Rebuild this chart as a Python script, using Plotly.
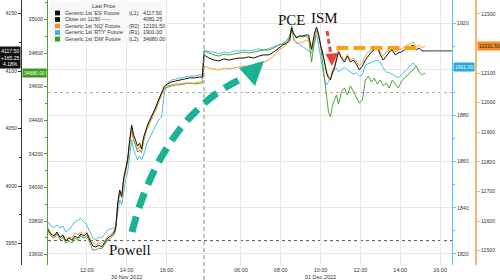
import plotly.graph_objects as go

# ---------------- data ----------------
nov30_times = ["10:03","10:12","10:21","10:30","10:39","10:48","10:57","11:06","11:15","11:24",
               "11:33","11:42","11:51","12:00","12:09","12:18","12:27","12:36","12:45","12:54",
               "13:03","13:12","13:21","13:27","13:33","13:39","13:45","13:51","13:57","14:03",
               "14:09","14:15","14:21","14:27","14:33","14:39","14:45","14:51","14:57","15:03",
               "15:09","15:18","15:27","15:36","15:45","15:54","16:03","16:15","16:27","16:39",
               "16:54","17:09","17:24","17:39","17:48"]
dec1_times = ["04:09","04:24","04:39","04:54","05:09","05:24","05:39","05:54","06:09","06:24",
              "06:39","06:54","07:09","07:24","07:39","07:54","08:06","08:18","08:27","08:33",
              "08:39","08:48","08:57","09:06","09:15","09:24","09:33","09:42","09:48","09:54",
              "10:00","10:06","10:12","10:18","10:24","10:30","10:36","10:42","10:48","10:54",
              "11:03","11:12","11:21","11:30","11:39","11:48","11:57","12:06","12:15","12:24",
              "12:33","12:42","12:51","13:00","13:09","13:18","13:27","13:36","13:45","13:54",
              "14:03","14:12","14:21","14:30","14:39","14:48","14:57","15:06","15:15"]

es_nov30 = [3961.75,3958.25,3956.5,3960.0,3955.5,3957.25,3952.25,3954.75,3953.0,3956.5,
            3954.75,3958.25,3956.5,3959.0,3953.0,3947.75,3947.0,3948.5,3947.0,3950.5,
            3954.75,3956.5,3959.0,3963.5,3985.25,3996.5,3991.25,4007.0,4015.5,4022.5,
            4040.0,4053.0,4044.25,4040.0,4034.75,4037.25,4032.25,4042.5,4048.75,4053.0,
            4057.25,4062.5,4067.75,4074.75,4081.75,4087.0,4088.75,4090.5,4091.25,4092.25,
            4093.0,4094.0,4094.0,4094.75,4094.75]
es_dec1 = [4114.0,4111.25,4109.5,4108.75,4110.5,4109.5,4110.5,4111.25,4111.25,4112.25,
           4111.25,4113.0,4114.0,4114.0,4116.5,4120.0,
           4122.5,4124.25,4127.0,4137.5,4132.25,4128.75,4130.5,4130.5,4131.25,4131.25,4119.0,4133.0,
           4138.25,4132.25,4122.5,4116.5,4107.75,4098.25,4094.0,4092.25,4099.0,4102.5,4109.5,4116.5,
           4111.25,4107.75,4113.0,4107.75,4109.5,4106.0,4101.0,4104.25,4109.5,4113.0,
           4116.5,4118.25,4121.0,4114.0,4109.5,4113.0,4116.5,4118.25,4114.0,4115.75,
           4116.5,4118.25,4120.0,4121.0,4122.5,4118.25,4120.0,4117.5,4117.5]

dm_nov30 = [33758,33711,33699,33723,33687,33705,33669,33681,33669,33699,
            33687,33711,33699,33711,33669,33628,33628,33639,33634,33657,
            33687,33699,33717,33747,33895,33967,33937,34044,34104,34175,
            34264,34354,34282,34241,34211,34223,34205,34282,34330,34360,
            34389,34431,34467,34514,34562,34592,34598,34604,34610,34610,
            34616,34621,34616,34621,34621]
dm_dec1 = [34812,34800,34788,34782,34794,34788,34794,34800,34806,34800,
           34806,34812,34818,34818,34830,34848,
           34854,34877,34901,34961,34913,34895,34901,34895,34901,34889,34746,34877,
           34937,34901,34848,34746,34639,34520,34449,34419,34490,34520,34550,34496,
           34568,34592,34550,34604,34568,34532,34502,34520,34639,34663,
           34627,34651,34616,34639,34604,34621,34592,34639,34616,34592,
           34627,34651,34663,34687,34699,34723,34687,34669,34680]

rty_nov30 = [1833.9,1832.1,1831.3,1832.6,1831.3,1832.1,1829.5,1830.4,1832.1,1833.9,
             1834.7,1835.2,1833.9,1832.6,1829.5,1826.9,1826.1,1827.4,1826.9,1828.7,
             1830.4,1830.8,1831.3,1832.1,1839.0,1843.4,1841.2,1847.7,1852.0,1855.5,
             1861.6,1869.4,1865.0,1862.9,1860.7,1862.4,1860.7,1862.9,1865.9,1868.5,
             1870.2,1872.8,1875.4,1878.0,1879.3,1890.1,1894.0,1895.3,1895.7,1896.2,
             1896.6,1897.0,1897.0,1897.5,1897.5]
rty_dec1 = [1908.3,1907.5,1907.5,1906.6,1907.5,1907.0,1907.9,1907.9,1908.3,1907.9,
            1908.3,1908.8,1908.3,1908.8,1909.6,1910.5,
            1910.9,1911.8,1913.5,1917.8,1912.6,None,None,None,None,None,1907.0,1911.8,
            1914.8,1910.5,1906.2,1900.5,1895.3,1893.2,1894.5,1896.2,1897.5,1899.7,1900.5,1898.8,
            1899.7,1901.0,1899.7,1898.8,1897.9,1898.4,1897.0,1897.5,1901.8,None,
            None,None,1904.0,1903.1,1900.5,1898.8,1898.4,1897.9,1897.0,1896.2,
            None,None,None,None,1902.7,1901.0,None,None,None]

nq_nov30 = [11563,11549,11543,11560,11543,11553,11536,11546,11543,11560,
            11553,11563,11556,11563,11543,11526,11519,11526,11522,11536,
            11549,11556,11566,11583,11654,11695,11678,11732,11772,11799,
            11857,11908,11874,11860,11840,11853,11840,11874,11897,11914,
            11928,11951,11972,11999,12026,12049,12056,12060,12063,12063,
            12066,12066,12066,12070,12070]
nq_dec1 = [12124,12117,12114,12110,12117,12114,12117,12120,12124,12120,
           12127,12134,12137,12144,12157,12178,
           12185,12195,12205,12252,12218,12198,12201,12205,12208,12212,12178,12225,
           12245,12225,12195,12171,12144,12110,12090,12083,12110,12124,12151,12178,
           12157,12144,12164,12144,12151,12137,12124,12137,12157,12171,
           12178,12185,12191,12171,12157,12171,12178,12185,12171,12178,
           12181,12188,12195,12198,12205,12188,12195,12185,12191.5]

legend_names = ["Generic 1st 'ES' Future", "Close on 11/30 -----", "Generic 1st 'NQ' Future",
                "Generic 1st 'RTY' Future", "Generic 1st 'DM' Future"]
legend_axes = ["(L1)", "", "(R2)", "(R1)", "(L2)"]
legend_values = ["4117.50", "4081.25", "12191.50", "1901.00", "34680.00"]
es_close = 4081.25
es_last, nq_last, rty_last, dm_last = 4117.50, 12191.50, 1901.00, 34680.00
es_change, es_pct = "+165.25", "4.18%"
nq_level = 12184.5
rty_ticks = [1820, 1840, 1860, 1880, 1900, 1920]
rty_ticktext = ["1820", "1840", "1860", "1880", "", "1920"]      # 1900 hidden under last-price tag
nq_ticks = [11500, 11600, 11700, 11800, 11900, 12000, 12100, 12200, 12300]
nq_ticktext = ["11500", "11600", "11700", "11800", "11900", "12000", "12100", "", "12300"]
x_ticks = ["2022-11-30 12:00", "2022-11-30 14:00", "2022-11-30 16:00",
           "2022-12-01 06:00", "2022-12-01 08:00", "2022-12-01 10:00",
           "2022-12-01 12:00", "2022-12-01 14:00", "2022-12-01 16:00"]
x_ticktext = ["12:00", "14:00<br>30 Nov 2022", "16:00", "06:00", "08:00",
              "10:00<br>01 Dec 2022", "12:00", "14:00", "16:00"]

times = ["2022-11-30 " + t for t in nov30_times] + ["2022-12-01 " + t for t in dec1_times]
es = es_nov30 + es_dec1
dm = dm_nov30 + dm_dec1
rty = rty_nov30 + rty_dec1
nq = nq_nov30 + nq_dec1

C_ES, C_NQ, C_RTY, C_DM = "#111111", "#f7931e", "#3bb4e8", "#3d9b23"
TEAL, RED, GOLD = "#19b394", "#ee4035", "#f5a50a"

fig = go.Figure()
fig.add_trace(go.Scatter(x=times, y=rty, yaxis="y", mode="lines", connectgaps=True,
                         line=dict(color=C_RTY, width=0.9)))
fig.add_trace(go.Scatter(x=times, y=dm, yaxis="y2", mode="lines",
                         line=dict(color=C_DM, width=0.9)))
fig.add_trace(go.Scatter(x=times, y=nq, yaxis="y3", mode="lines",
                         line=dict(color=C_NQ, width=0.9)))
fig.add_trace(go.Scatter(x=times, y=es, yaxis="y4", mode="lines",
                         line=dict(color=C_ES, width=1)))

TF = dict(family="Liberation Sans, Arial", size=5.2, color="#333")

def yax(rng, dtick, tick0, color, side, anchor, position=None, minor=None, lw=1, grid=False,
        overlay=True, tickvals=None, ticktext=None):
    d = dict(range=rng, side=side, anchor=anchor,
             showline=True, linecolor=color, linewidth=lw, ticks="outside", ticklen=3,
             tickcolor=color, tickfont=TF, tickformat=".0f", zeroline=False,
             showgrid=grid, gridcolor="#e6e6e6", gridwidth=1, fixedrange=True)
    if tickvals is not None:
        d["tickmode"] = "array"
        d["tickvals"] = tickvals
        d["ticktext"] = ticktext
    else:
        d["dtick"] = dtick
        d["tick0"] = tick0
    if position is not None:
        d["position"] = position
    if minor:
        d["minor"] = dict(dtick=minor, tick0=tick0, ticks="outside", ticklen=2, tickcolor=color, showgrid=False)
    if overlay:
        d["overlaying"] = "y"
    return d

fig.update_layout(
    width=500, height=280, margin=dict(l=0, r=0, t=0, b=15),
    paper_bgcolor="white", plot_bgcolor="white", showlegend=False,
    xaxis=dict(domain=[0.096, 0.904], type="date",
               range=["2022-11-30 10:03", "2022-12-01 16:36"],
               rangebreaks=[dict(bounds=["2022-11-30 17:50", "2022-12-01 04:06"])],
               tickvals=x_ticks, ticktext=x_ticktext, tickangle=0,
               tickfont=dict(family="Liberation Sans, Arial", size=5.5, color="#333"),
               showgrid=True, gridcolor="#e6e6e6", gridwidth=1, ticks="", showline=False,
               zeroline=False, fixedrange=True),
    yaxis=yax([1815.2, 1929.96], 20, 1820, "#5cc3ee", "right", "x", minor=10, grid=True, overlay=False,
              tickvals=rty_ticks, ticktext=rty_ticktext),
    yaxis2=yax([33538.1, 35115.5], 200, 33600, "#4ca22e", "left", "x", minor=100),
    yaxis3=yax([11451.4, 12346.6], 100, 11500, "#f8b26a", "right", "free", position=0.952, lw=2,
               tickvals=nq_ticks, ticktext=nq_ticktext),
    yaxis4=yax([3931.3, 4161.74], 50, 3950, "#333333", "left", "free", position=0.042, minor=25),
)

def PX(x):
    return x / 500.0

def PY(y):
    return (265.0 - y) / 265.0

shapes = []
# close on 11/30 line
shapes.append(dict(type="line", xref="x domain", yref="y4", x0=0, x1=1, y0=es_close, y1=es_close,
                   line=dict(color="#a9a9a9", width=1, dash="dot"), layer="below"))
# dotted dark reference line near bottom
shapes.append(dict(type="line", xref="x domain", yref="y4", x0=0, x1=1, y0=3952.5, y1=3952.5,
                   line=dict(color="#555", width=1, dash="dot"), layer="below"))
# ES last price leader
shapes.append(dict(type="line", xref="x", yref="y4", x0=times[-1], x1="2022-12-01 16:36",
                   y0=es_last, y1=es_last, line=dict(color="#666", width=1.3)))
# break line
shapes.append(dict(type="line", xref="paper", yref="paper", x0=PX(204), x1=PX(204), y0=PY(280), y1=1,
                   line=dict(color="#8a8a8a", width=1, dash="4px,3px")))
# gold dashed level line
shapes.append(dict(type="line", xref="x", yref="y3", x0="2022-12-01 10:48", x1="2022-12-01 14:57",
                   y0=nq_level, y1=nq_level, line=dict(color=GOLD, width=4, dash="12px,5px")))
# teal arrow
shapes.append(dict(type="path", xref="paper", yref="paper",
                   path=f"M {PX(132)},{PY(232)} C {PX(150)},{PY(160)} {PX(190)},{PY(100)} {PX(246)},{PY(77)}",
                   line=dict(color=TEAL, width=7, dash="16px,9px")))
shapes.append(dict(type="path", xref="paper", yref="paper",
                   path=f"M {PX(264)},{PY(61)} L {PX(239)},{PY(68)} L {PX(255)},{PY(86)} Z",
                   fillcolor=TEAL, line=dict(width=0)))
# red arrow
shapes.append(dict(type="line", xref="paper", yref="paper", x0=PX(327), y0=PY(31), x1=PX(331), y1=PY(55),
                   line=dict(color=RED, width=3, dash="5px,3px")))
shapes.append(dict(type="path", xref="paper", yref="paper",
                   path=f"M {PX(332)},{PY(66)} L {PX(325.5)},{PY(54)} L {PX(338)},{PY(53)} Z",
                   fillcolor=RED, line=dict(width=0)))
# legend background
shapes.append(dict(type="rect", xref="paper", yref="paper", x0=PX(49), x1=PX(163), y0=PY(43), y1=PY(1),
                   fillcolor="rgba(247,247,247,0.93)", line=dict(width=0)))
legend_colors = [C_ES, C_ES, C_NQ, C_RTY, C_DM]
rows = [13, 19.5, 26, 32.5, 39]
for c, r in zip(legend_colors, rows):
    shapes.append(dict(type="rect", xref="paper", yref="paper", x0=PX(55), x1=PX(60),
                       y0=PY(r + 2.4), y1=PY(r - 2.4), fillcolor=c, line=dict(width=0)))
fig.update_layout(shapes=shapes)

ann = []
LF = dict(family="Liberation Sans, Arial", size=5.3, color="#333")
ann.append(dict(xref="paper", yref="paper", x=PX(104), y=PY(6.5), text="Last Price", showarrow=False,
                xanchor="center", yanchor="middle", font=LF))
for name, axn, val, r in zip(legend_names, legend_axes, legend_values, rows):
    ann.append(dict(xref="paper", yref="paper", x=PX(62.5), y=PY(r), text=name, showarrow=False,
                    xanchor="left", yanchor="middle", font=LF))
    if axn:
        ann.append(dict(xref="paper", yref="paper", x=PX(127), y=PY(r), text=axn, showarrow=False,
                        xanchor="left", yanchor="middle", font=LF))
    ann.append(dict(xref="paper", yref="paper", x=PX(141), y=PY(r), text=val, showarrow=False,
                    xanchor="left", yanchor="middle", font=LF))

SF = dict(family="Liberation Serif, Times New Roman, serif", size=15, color="#111")
ann.append(dict(xref="paper", yref="paper", x=PX(292), y=PY(20), text="PCE", showarrow=False,
                xanchor="center", yanchor="middle", font=SF))
ann.append(dict(xref="paper", yref="paper", x=PX(324), y=PY(18), text="ISM", showarrow=False,
                xanchor="center", yanchor="middle", font=SF))
ann.append(dict(xref="paper", yref="paper", x=PX(130), y=PY(250), text="Powell", showarrow=False,
                xanchor="center", yanchor="middle", font=SF))

BF = dict(family="Liberation Sans, Arial", size=5, color="white")
ann.append(dict(xref="paper", yref="y4", x=PX(21), y=es_last, text=f"{es_last:.2f}<br>{es_change}<br>{es_pct}",
                showarrow=False, xanchor="right", yanchor="top", yshift=5, font=BF, bgcolor="#111",
                borderpad=1))
ann.append(dict(xref="paper", yref="y2", x=PX(47), y=dm_last, text=f"{dm_last:.2f}", showarrow=False,
                xanchor="right", yanchor="middle", font=BF, bgcolor="#3f9a1f", borderpad=1))
ann.append(dict(xref="paper", yref="y", x=PX(453), y=rty_last, text=f"{rty_last:.2f}", showarrow=False,
                xanchor="left", yanchor="middle", font=BF, bgcolor="#29a8e0", borderpad=1))
ann.append(dict(xref="paper", yref="y3", x=PX(477), y=nq_last, text=f"{nq_last:.2f}", showarrow=False,
                xanchor="left", yanchor="middle", font=dict(family="Liberation Sans, Arial", size=5, color="#222"),
                bgcolor="#f68b1f", borderpad=1))
fig.update_layout(annotations=ann)

fig.write_html("out.html")
